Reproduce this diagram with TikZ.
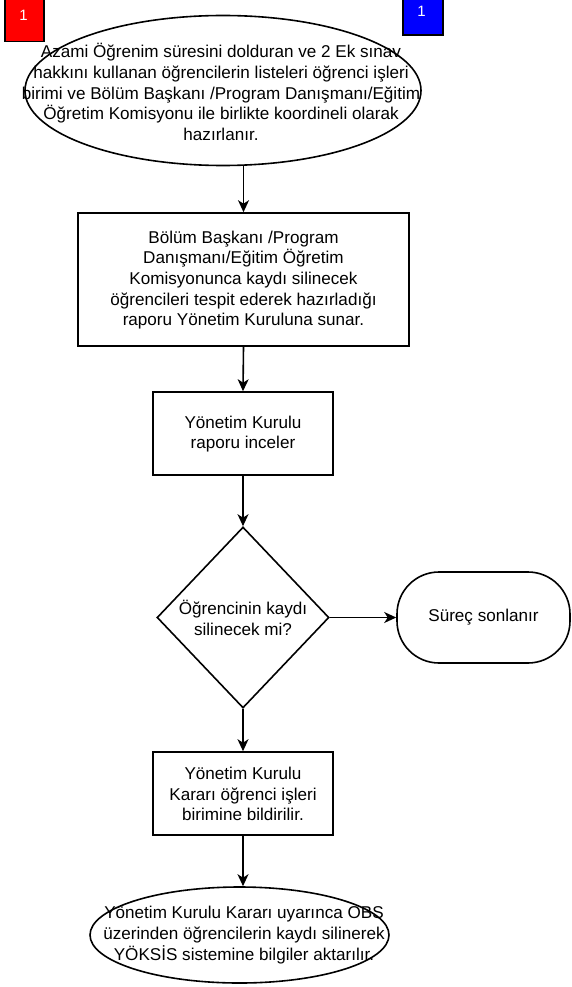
\documentclass[tikz,border=0pt]{standalone}
\usepackage{fontspec}
\setmainfont{Liberation Sans}
\usetikzlibrary{shapes.geometric,arrows.meta}
\tikzset{
  txt/.style={align=center, inner sep=0pt, font=\fontsize{17.1pt}{20.7pt}\selectfont},
  boxnode/.style={draw, line width=1.6pt, rectangle, inner sep=0pt},
  ellnode/.style={draw, line width=1.6pt, ellipse, inner sep=0pt},
  arr/.style={line width=1.6pt, -{Stealth[length=12pt,width=11pt,inset=3.5pt]}},
  badge/.style={draw, line width=1.6pt, rectangle, inner sep=0pt}
}
\begin{document}
\begin{tikzpicture}[x=1pt,y=-1pt]
\useasboundingbox (0,0) rectangle (571,987);
% badges
\node[badge, fill=red, minimum width=39, minimum height=52] (b1) at (24.5,15.5) {};
\node[text=white, font=\fontsize{15pt}{17pt}\selectfont] (b1t) at (23.5,15.5) {1};
\node[badge, fill=blue, minimum width=40, minimum height=46] (b2) at (423,12) {};
\node[text=white, font=\fontsize{15pt}{17pt}\selectfont] (b2t) at (421.5,11) {1};
% top ellipse
\node[ellnode, minimum width=396, minimum height=150] (top) at (223,90.5) {};
\node[txt] (toptext) at (221,92) {Azami Öğrenim süresini dolduran ve 2 Ek sınav\\hakkını kullanan öğrencilerin listeleri öğrenci işleri\\birimi ve Bölüm Başkanı /Program Danışmanı/Eğitim\\Öğretim Komisyonu ile birlikte koordineli olarak\\hazırlanır.};
% box 1
\node[boxnode, minimum width=331, minimum height=133] (box1) at (243.5,279.5) {};
\node[txt] (box1t) at (243.5,280) {Bölüm Başkanı /Program\\Danışmanı/Eğitim Öğretim\\Komisyonunca kaydı silinecek\\öğrencileri tespit ederek hazırladığı\\raporu Yönetim Kuruluna sunar.};
% box 2
\node[boxnode, minimum width=180, minimum height=83] (box2) at (243,433.5) {};
\node[txt] (box2t) at (243,434) {Yönetim Kurulu\\raporu inceler};
% diamond
\node[draw, line width=1.6pt, diamond, inner sep=0pt, minimum width=172, minimum height=181] (dia) at (243,617.5) {};
\node[txt] (diat) at (243,618) {Öğrencinin kaydı\\silinecek mi?};
% end terminator
\node[draw, line width=1.6pt, rectangle, rounded corners=42pt, minimum width=173, minimum height=91, inner sep=0pt] (endn) at (483.5,617.5) {};
\node[txt] (endt) at (483.5,617.5) {Süreç sonlanır};
% box 3
\node[boxnode, minimum width=180, minimum height=83] (box3) at (243,793.5) {};
\node[txt] (box3t) at (243,794) {Yönetim Kurulu\\Kararı öğrenci işleri\\birimine bildirilir.};
% bottom ellipse
\node[ellnode, minimum width=299, minimum height=96] (bot) at (239.5,935) {};
\node[txt] (bott) at (244,935) {Yönetim Kurulu Kararı uyarınca OBS\\üzerinden öğrencilerin kaydı silinerek\\YÖKSİS sistemine bilgiler aktarılır.};
% connectors
\draw[arr] (top.south -| box1.north) -- (box1.north);
\draw[arr] (box1.south) -- (box2.north);
\draw[arr] (box2.south) -- (dia.north);
\draw[arr] (dia.east) -- (endn.west);
\draw[arr] (dia.south) -- (box3.north);
\draw[arr] (box3.south) -- (box3.south |- bot.north);
\end{tikzpicture}
\end{document}
